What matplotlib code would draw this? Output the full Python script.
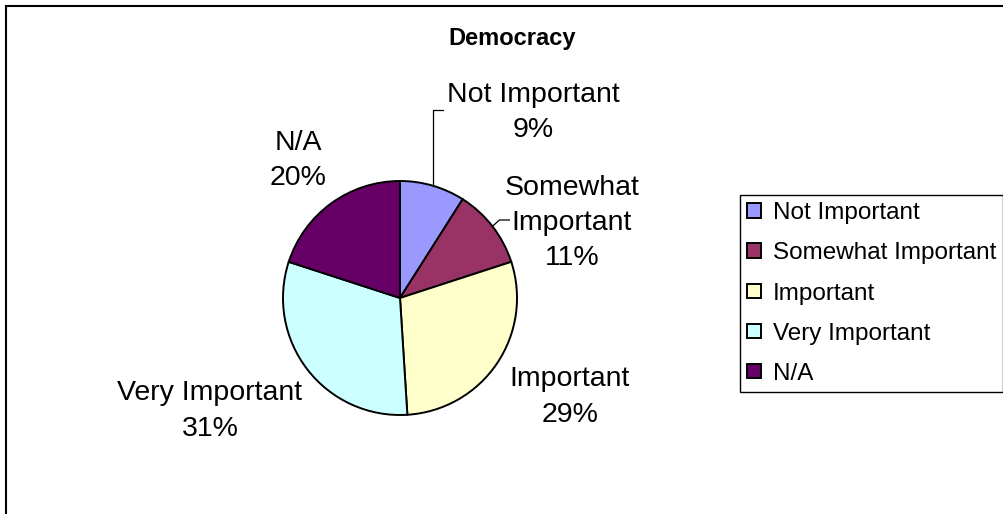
import matplotlib.pyplot as plt
from matplotlib.patches import Rectangle
import numpy as np

plt.rcParams['font.family'] = ['Liberation Sans', 'DejaVu Sans']

# data
categories = ['Not Important', 'Somewhat Important', 'Important', 'Very Important', 'N/A']
values = [9, 11, 29, 31, 20]
pie_labels = ['Not Important\n9%', 'Somewhat\nImportant\n11%', 'Important\n29%',
              'Very Important\n31%', 'N/A\n20%']
colors = ['#9999FF', '#993366', '#FFFFCC', '#CCFFFF', '#660066']

W, H = 1004, 514
# layout in pixels (from top-left)
cx, cy, rad = 400, 298, 117
label_pos = [(533, 112), (572, 223), (570, 397), (210, 411), (298, 160)]

fig = plt.figure(figsize=(W / 100, H / 100), dpi=100)
ax = fig.add_axes([0, 0, 1, 1])

wedges, _ = ax.pie(values, colors=colors, startangle=90, counterclock=False,
                   center=(cx, H - cy), radius=rad,
                   wedgeprops=dict(edgecolor='black', linewidth=1.4))
ax.set_xlim(0, W)
ax.set_ylim(0, H)
ax.set_aspect('equal')
ax.axis('off')

for lab, (lx, ly) in zip(pie_labels, label_pos):
    ax.text(lx, H - ly, lab, ha='center', va='center', fontsize=20.5,
            linespacing=1.45)

# leader lines for the two small slices
mids = []
ang = 90.0
for v in values:
    span = 360.0 * v / sum(values)
    mids.append(np.deg2rad(ang - span / 2))
    ang -= span
px = cx + rad * np.cos(mids[0])
py = cy - rad * np.sin(mids[0])
ax.plot([px, px, px + 10], [H - py, H - 110, H - 110], color='black', lw=0.9)
px = cx + rad * np.cos(mids[1])
py = cy - rad * np.sin(mids[1])
ax.plot([px, px + 7, px + 17], [H - py, H - 220, H - 220], color='black', lw=0.9)

fig.text(512 / W, 1 - 38 / H, 'Democracy', ha='center', va='center',
         fontsize=17, fontweight='bold')

leg = fig.legend(wedges, categories, loc='upper left',
                 bbox_to_anchor=(740 / W, 1 - 195 / H), fontsize=17.5,
                 frameon=True, fancybox=False, edgecolor='black', framealpha=1,
                 handlelength=0.55, handleheight=0.55, handletextpad=0.5,
                 labelspacing=0.745, borderpad=0.3, borderaxespad=0)
leg.get_frame().set_linewidth(1.0)

# outer chart border
fig.add_artist(Rectangle((6 / W, -0.02), 1.05, 1 - 6 / H + 0.02,
                         transform=fig.transFigure, fill=False,
                         edgecolor='black', linewidth=1.5))

fig.savefig('out.png', dpi=100)
